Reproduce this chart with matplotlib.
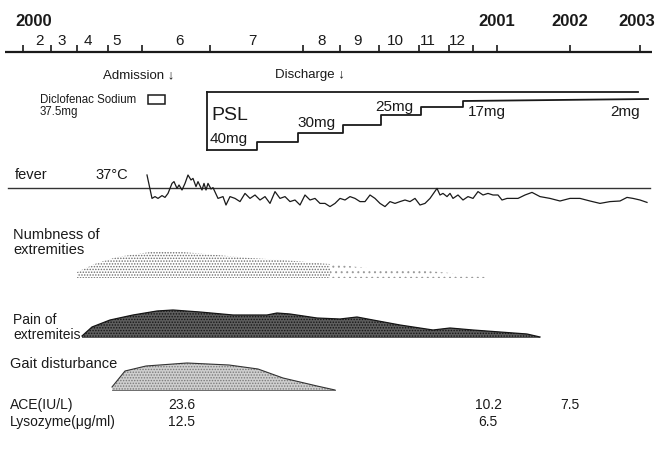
import matplotlib
matplotlib.use("Agg")
import matplotlib.pyplot as plt
import numpy as np

plt.rcParams['font.family'] = ['Liberation Sans', 'DejaVu Sans']
plt.rcParams['hatch.linewidth'] = 0.7

# ---------------- data ----------------
# timeline (positions along the hand-drawn time axis)
tick_x = [23, 51, 77, 108, 142, 210, 303, 340, 379, 419, 449, 473, 497, 570, 640]
month_labels = ['2', '3', '4', '5', '6', '7', '8', '9', '10', '11', '12']
month_label_x = [40, 62, 88, 117, 180, 252, 322, 358, 395, 428, 457]
year_labels = ['2000', '2001', '2002', '2003']
year_label_x = [34, 497, 570, 637]

# PSL dosing steps (time, drawn level)
psl_t = [207, 257, 298, 343, 381, 421, 463, 648]
psl_level = [150, 142, 133, 125, 115, 107, 101, 99]
psl_labels = ['40mg', '30mg', '25mg', '17mg', '2mg']
psl_label_t = [210, 297, 375, 468, 610]
psl_label_y = [139, 123, 107, 112, 112]

# fever (time, body temperature in deg C)
fever_t = [147, 152, 155, 158, 162, 165, 168, 172, 174, 177, 179, 182, 185, 188, 191,
           193, 196, 198, 202, 204, 206, 208, 211, 213, 218, 223, 226, 230, 235, 240,
           245, 250, 255, 260, 265, 270, 275, 280, 285, 290, 295, 300, 305, 310, 315,
           320, 325, 330, 335, 340, 345, 350, 355, 360, 365, 370, 375, 380, 385, 390,
           395, 400, 405, 410, 415, 420, 425, 430, 437, 440, 443, 447, 450, 453, 458,
           463, 468, 473, 478, 483, 488, 493, 498, 502, 507, 512, 518, 525, 532, 540,
           550, 560, 570, 580, 590, 600, 610, 620, 627, 633, 640, 647]
fever_c = [37.65, 36.48, 36.57, 36.48, 36.62, 36.53, 36.73, 37.23, 37.32, 36.98, 37.15, 36.90,
           37.23, 37.65, 37.40, 37.48, 37.07, 37.32, 36.90, 37.23, 36.90, 37.23, 36.95, 37.02,
           36.48, 36.57, 36.15, 36.57, 36.48, 36.32, 36.73, 36.48, 36.65, 36.40, 36.57, 36.23,
           36.82, 36.48, 36.57, 36.32, 36.40, 36.15, 36.65, 36.40, 36.48, 36.23, 36.23, 36.07,
           36.23, 36.48, 36.40, 36.57, 36.48, 36.32, 36.32, 36.65, 36.48, 36.23, 36.07, 36.32,
           36.23, 36.32, 36.40, 36.32, 36.48, 36.15, 36.23, 36.48, 36.98, 36.65, 36.73, 36.57,
           36.73, 36.48, 36.65, 36.40, 36.57, 36.48, 36.82, 36.65, 36.73, 36.65, 36.65, 36.40,
           36.48, 36.48, 36.48, 36.65, 36.78, 36.57, 36.48, 36.35, 36.48, 36.48, 36.35, 36.23,
           36.32, 36.35, 36.53, 36.48, 36.40, 36.28]

# symptom intensity profiles (time, upper edge of band)
numb_t = [77, 97, 117, 150, 183, 217, 250, 283, 330, 367, 417, 450, 487]
numb_top = [272, 263, 257, 252, 252, 255, 258, 260, 264, 268, 270, 273, 277]
pain_t = [82, 92, 110, 133, 157, 173, 200, 233, 267, 277, 290, 317, 340, 357, 373,
          400, 433, 450, 473, 500, 527, 540]
pain_top = [336, 327, 320, 315, 311, 310, 312, 315, 315, 313, 314, 318, 319, 317, 320,
            325, 330, 328, 330, 332, 334, 337]
gait_t = [112, 125, 146, 187, 229, 258, 283, 317, 335]
gait_top = [387, 371, 366, 363, 365, 369, 378, 386, 390]

# laboratory values
lab_names = ['ACE(IU/L)', 'Lysozyme(\u03bcg/ml)']
ace_t = [168, 475, 560]
ace_vals = ['23.6', '10.2', '7.5']
lyso_t = [168, 478]
lyso_vals = ['12.5', '6.5']

# ---------------- figure ----------------
fig = plt.figure(figsize=(6.58, 4.58), dpi=100)
ax = fig.add_axes([0, 0, 1, 1])
ax.set_xlim(0, 658)
ax.set_ylim(458, 0)
ax.axis('off')

ink = '#1a1a1a'

# time axis
ax.plot([5, 652], [52, 52], color=ink, lw=1.6, solid_capstyle='butt')
ax.vlines(tick_x, 45, 52, color=ink, lw=1.2)
for lab, x in zip(month_labels, month_label_x):
    ax.text(x, 41, lab, ha='center', va='center', fontsize=11, color=ink)
for lab, x in zip(year_labels, year_label_x):
    ax.text(x, 22, lab, ha='center', va='center', fontsize=12, fontweight='bold', color=ink)

# admission / discharge
ax.text(103, 75, 'Admission \u2193', ha='left', va='center', fontsize=9.5, color=ink)
ax.text(275, 75, 'Discharge \u2193', ha='left', va='center', fontsize=9.5, color=ink)

# Diclofenac
ax.text(40, 100, 'Diclofenac Sodium', ha='left', va='center', fontsize=8.3, color=ink)
ax.text(40, 112, '37.5mg', ha='left', va='center', fontsize=8.3, color=ink)
ax.add_patch(plt.Rectangle((148, 95), 17, 9, fill=False, ec=ink, lw=1.1))

# PSL box
ax.plot([207, 638], [92, 92], color=ink, lw=1.3)
ax.plot([207, 207], [92, psl_level[0]], color=ink, lw=1.3)
px, py = [], []
for i in range(len(psl_t) - 1):
    px += [psl_t[i], psl_t[i + 1]]
    py += [psl_level[i], psl_level[i] if i < len(psl_t) - 2 else psl_level[i + 1]]
ax.plot(px, py, color=ink, lw=1.3)
ax.text(211, 115, 'PSL', ha='left', va='center', fontsize=14, color=ink)
for lab, x, y in zip(psl_labels, psl_label_t, psl_label_y):
    ax.text(x, y, lab, ha='left', va='center', fontsize=11, color=ink)

# fever
ax.text(15, 175, 'fever', ha='left', va='center', fontsize=10.5, color=ink)
ax.text(95, 175, '37\u00b0C', ha='left', va='center', fontsize=10.5, color=ink)
base37 = 188
ax.plot([8, 650], [base37, base37], color='#333333', lw=1.0)
fever_y = base37 - (np.array(fever_c) - 37.0) * 20.0
ax.plot(fever_t, fever_y, color=ink, lw=0.9)

# numbness of extremities
ax.text(13, 235, 'Numbness of', ha='left', va='center', fontsize=10.5, color=ink)
ax.text(13, 250, 'extremities', ha='left', va='center', fontsize=10.5, color=ink)
nt = np.array(numb_t); ntop = np.array(numb_top)
m1 = nt <= 330
ax.fill_between(nt[m1], ntop[m1], 278, facecolor='none', hatch='......',
                edgecolor='#6e6e6e', linewidth=0)
m2 = nt >= 330
ax.fill_between(nt[m2], ntop[m2], 278, facecolor='none', hatch='...',
                edgecolor='#9a9a9a', linewidth=0)

# pain of extremities
ax.text(13, 320, 'Pain of', ha='left', va='center', fontsize=10, color=ink)
ax.text(13, 335, 'extremiteis', ha='left', va='center', fontsize=10, color=ink)
ax.fill_between(pain_t, pain_top, 338, facecolor='#5e5e5e', hatch='......',
                edgecolor='#151515', linewidth=0)
ax.plot(pain_t, pain_top, color='#151515', lw=0.9)

# gait disturbance
ax.text(10, 364, 'Gait disturbance', ha='left', va='center', fontsize=10.5, color=ink)
ax.fill_between(gait_t, gait_top, 390, facecolor='#cfcfcf', hatch='......',
                edgecolor='#7a7a7a', linewidth=0)
ax.plot(gait_t, gait_top, color='#333333', lw=0.8)
ax.plot([gait_t[0], gait_t[-1]], [390, 390], color='#555555', lw=0.6)

# lab values
ax.text(10, 405, lab_names[0], ha='left', va='center', fontsize=10, color=ink)
ax.text(10, 422, lab_names[1], ha='left', va='center', fontsize=10, color=ink)
for x, v in zip(ace_t, ace_vals):
    ax.text(x, 405, v, ha='left', va='center', fontsize=10, color=ink)
for x, v in zip(lyso_t, lyso_vals):
    ax.text(x, 422, v, ha='left', va='center', fontsize=10, color=ink)

fig.savefig('out.png', dpi=100)
